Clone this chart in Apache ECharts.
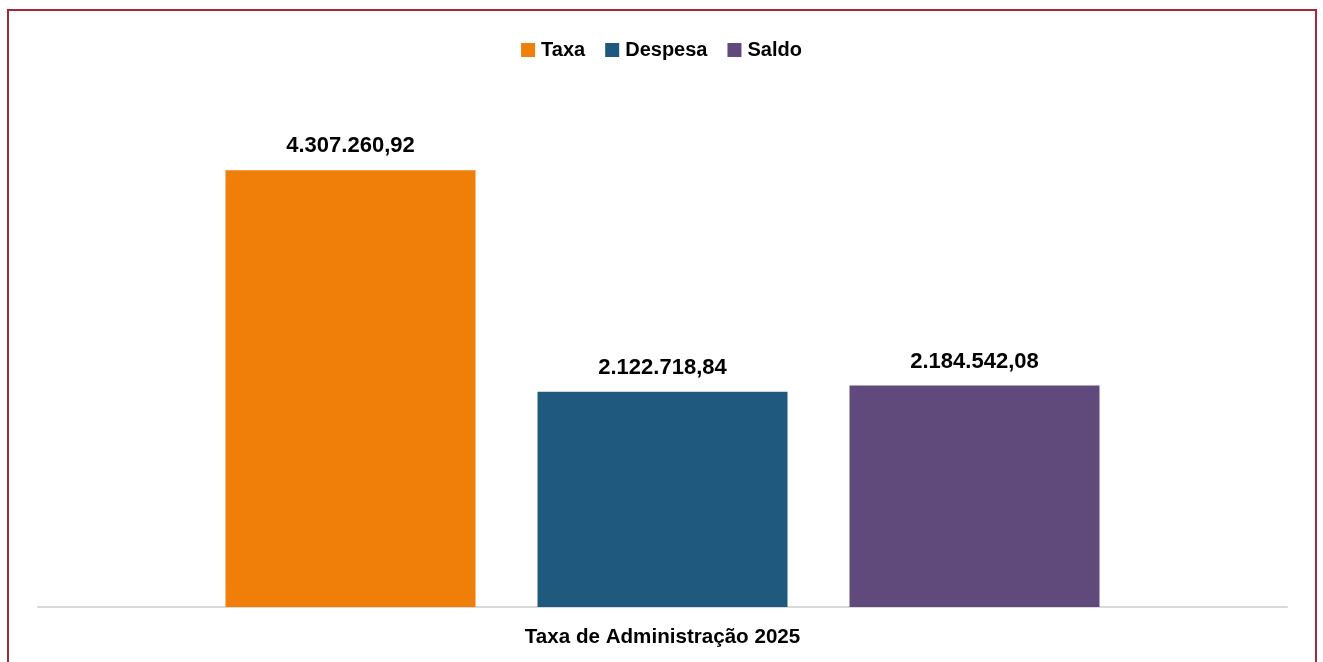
<!DOCTYPE html>
<html>
<head>
<meta charset="utf-8">
<script src="https://cdn.jsdelivr.net/npm/echarts@6/dist/echarts.min.js"></script>
<style>
html,body{margin:0;padding:0;background:#fff;}
#c{width:1323px;height:662px;}
</style>
</head>
<body>
<div id="c"></div>
<script>
const categories = ['Taxa de Administração 2025'];
const seriesNames = ['Taxa', 'Despesa', 'Saldo'];
const taxaValues = [4307260.92];
const despesaValues = [2122718.84];
const saldoValues = [2184542.08];
const seriesColors = ['#F07F09', '#1F5A7E', '#604A7B'];

function fmt(v) {
  const parts = v.toFixed(2).split('.');
  const intPart = parts[0].replace(/\B(?=(\d{3})+(?!\d))/g, '.');
  return intPart + ',' + parts[1];
}

const font = "'Liberation Sans', Arial, sans-serif";
const chart = echarts.init(document.getElementById('c'));
const dataSets = [taxaValues, despesaValues, saldoValues];
chart.setOption({
  animation: false,
  backgroundColor: '#fff',
  graphic: [{
    type: 'rect', silent: true, z: 100,
    shape: {x: 8, y: 10, width: 1308, height: 720},
    style: {fill: 'none', stroke: '#A6273A', lineWidth: 2}
  }],
  legend: {
    top: 35, left: 'center',
    itemWidth: 14, itemHeight: 14, itemGap: 20,
    icon: 'rect',
    textStyle: {fontFamily: font, fontWeight: 'bold', fontSize: 20, color: '#000', padding: [0,0,0,1]},
    data: seriesNames
  },
  grid: {left: 38, right: 36, top: 100, bottom: 55, containLabel: false},
  xAxis: {
    type: 'category', data: categories,
    axisLine: {show: true, lineStyle: {color: '#D9D9D9', width: 2}},
    axisTick: {show: false},
    axisLabel: {margin: 20, fontFamily: font, fontWeight: 'bold', fontSize: 20.6, color: '#000'}
  },
  yAxis: {
    type: 'value', min: 0, max: 5000000, interval: 1000000,
    show: false, splitLine: {show: false}
  },
  series: seriesNames.map((n, i) => ({
    name: n, type: 'bar', data: dataSets[i],
    barWidth: 250, barGap: '24.8%',
    itemStyle: {color: seriesColors[i]},
    label: {
      show: true, position: 'top', distance: 13,
      fontFamily: font, fontWeight: 'bold', fontSize: 22, color: '#000',
      formatter: p => fmt(p.value)
    }
  }))
});
</script>
</body>
</html>
